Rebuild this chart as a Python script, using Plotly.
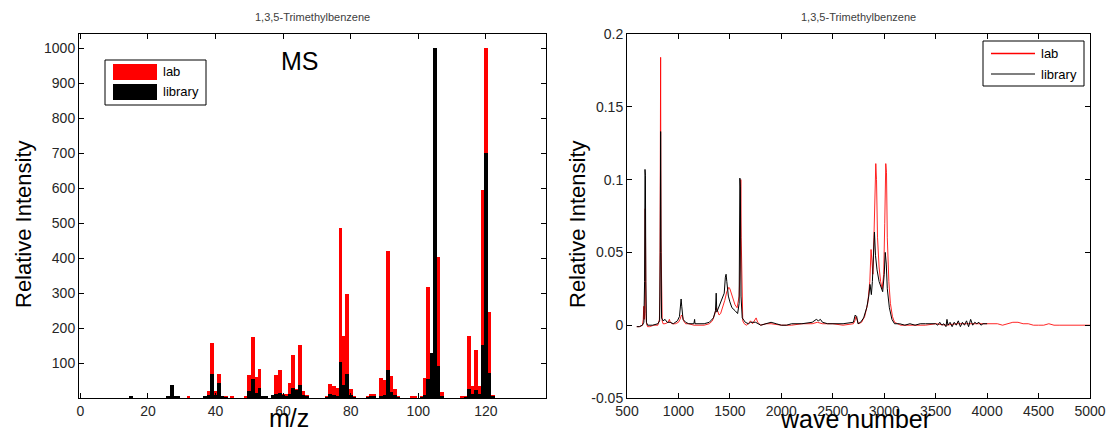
import plotly.graph_objects as go

# ---------------- MS data (m/z, relative intensity) ----------------
ms_mz = [15, 26, 27, 28, 29, 32, 37, 38, 39, 40, 41, 42, 43, 45, 49, 50, 51, 52, 53, 54, 55,
         57, 58, 59, 60, 61, 62, 63, 64, 65, 66, 67, 73, 74, 75, 76, 77, 78, 79, 80, 81,
         85, 86, 87, 89, 90, 91, 92, 93, 94, 98, 99, 101, 102, 103, 104, 105, 106, 107,
         113, 114, 115, 116, 117, 118, 119, 120, 121, 122]
ms_lab = [0, 5, 35, 4, 2, 3, 7, 19, 157, 19, 68, 3, 3, 3, 3, 67, 174, 61, 83, 5, 5,
          8, 67, 81, 12, 12, 43, 124, 26, 152, 19, 8, 5, 40, 33, 30, 486, 176, 297, 26, 3,
          5, 12, 12, 57, 52, 419, 63, 26, 3, 6, 3, 5, 58, 318, 130, 1000, 402, 16,
          3, 3, 177, 35, 138, 35, 595, 1000, 247, 9]
ms_library = [4, 4, 36, 5, 3, 0, 3, 8, 69, 10, 42, 3, 2, 0, 0, 19, 54, 13, 28, 5, 3,
              8, 12, 15, 8, 5, 12, 28, 24, 36, 8, 3, 2, 11, 8, 5, 102, 36, 69, 8, 2,
              2, 3, 3, 5, 8, 81, 16, 8, 2, 0, 0, 2, 10, 54, 128, 1000, 92, 3,
              0, 2, 26, 12, 24, 12, 152, 702, 71, 3]

# ---------------- IR data (wave number, relative intensity) ----------------
ir_lab = [(595, -0.001), (620, -0.001), (650, 0.0), (658, 0.004), (663, 0.013), (668, 0.004),
          (673, 0.01), (677, 0.08), (680, 0.06), (684, 0.008), (690, 0.001), (700, -0.001),
          (720, -0.001), (760, 0.0), (800, 0.0), (815, 0.004), (820, 0.02), (824, 0.12),
          (827, 0.184), (830, 0.06), (834, 0.033), (838, 0.01), (842, 0.003), (850, 0.001),
          (870, 0.001), (900, 0.002), (912, 0.004), (920, 0.002), (940, 0.001), (970, 0.001),
          (1000, 0.002), (1015, 0.004), (1030, 0.007), (1040, 0.006), (1050, 0.003),
          (1070, 0.001), (1100, 0.001), (1150, 0.0), (1200, 0.0), (1250, 0.0), (1300, 0.001),
          (1330, 0.003), (1355, 0.008), (1370, 0.012), (1380, 0.01), (1395, 0.007),
          (1410, 0.008), (1430, 0.012), (1450, 0.017), (1470, 0.023), (1490, 0.026),
          (1500, 0.025), (1515, 0.022), (1530, 0.019), (1550, 0.014), (1570, 0.012),
          (1590, 0.02), (1600, 0.04), (1606, 0.1), (1610, 0.06), (1614, 0.04), (1618, 0.01),
          (1625, 0.003), (1640, 0.001), (1660, 0.0), (1680, 0.001), (1700, 0.003),
          (1720, 0.001), (1740, 0.003), (1755, 0.005), (1770, 0.002), (1800, 0.0),
          (1850, 0.001), (1900, 0.001), (2000, 0.0), (2100, 0.0), (2200, 0.001),
          (2300, 0.001), (2350, 0.002), (2400, 0.001), (2500, 0.001), (2600, 0.0),
          (2700, 0.001), (2715, 0.003), (2725, 0.006), (2735, 0.004), (2750, 0.001),
          (2780, 0.002), (2810, 0.006), (2840, 0.015), (2860, 0.03), (2872, 0.052),
          (2880, 0.04), (2890, 0.035), (2900, 0.06), (2910, 0.1), (2918, 0.111),
          (2925, 0.1), (2935, 0.06), (2950, 0.04), (2965, 0.03), (2980, 0.025),
          (2995, 0.035), (3005, 0.07), (3015, 0.111), (3022, 0.105), (3030, 0.06),
          (3045, 0.03), (3060, 0.015), (3080, 0.006), (3100, 0.002), (3130, 0.001),
          (3160, 0.0), (3200, 0.0), (3300, 0.0), (3400, 0.0), (3500, 0.001), (3600, 0.0),
          (3700, 0.001), (3800, 0.001), (3900, 0.001), (4000, 0.001), (4050, 0.0005),
          (4100, 0.001), (4150, 0.0), (4200, 0.001), (4250, 0.002), (4300, 0.002),
          (4350, 0.001), (4400, 0.001), (4450, 0.0), (4500, 0.0), (4550, 0.0),
          (4600, 0.001), (4650, 0.0), (4700, 0.0), (4800, 0.0), (4900, 0.0), (5000, 0.0)]

ir_library = [(595, -0.001), (620, -0.001), (650, 0.0), (664, 0.002), (671, 0.03), (675, 0.107),
              (679, 0.103), (683, 0.03), (689, 0.002), (700, 0.0), (750, 0.0), (800, 0.001),
              (817, 0.003), (823, 0.05), (827, 0.133), (831, 0.05), (836, 0.005), (850, 0.003),
              (870, 0.004), (890, 0.002), (920, 0.002), (950, 0.001), (990, 0.003),
              (1010, 0.006), (1020, 0.012), (1026, 0.018), (1032, 0.013), (1045, 0.004),
              (1070, 0.002), (1100, 0.001), (1150, 0.001), (1157, 0.004), (1161, 0.001),
              (1200, 0.001), (1250, 0.001), (1300, 0.002), (1340, 0.005), (1360, 0.01),
              (1367, 0.022), (1373, 0.009), (1390, 0.012), (1410, 0.016), (1430, 0.02),
              (1445, 0.022), (1456, 0.033), (1463, 0.035), (1470, 0.03), (1485, 0.02),
              (1500, 0.016), (1520, 0.012), (1550, 0.01), (1575, 0.008), (1590, 0.015),
              (1597, 0.101), (1602, 0.095), (1608, 0.02), (1620, 0.005), (1650, 0.002),
              (1680, 0.001), (1700, 0.002), (1750, 0.002), (1800, 0.0), (1850, 0.001),
              (1900, 0.002), (1950, 0.001), (2000, 0.0), (2050, 0.0), (2100, 0.001),
              (2200, 0.001), (2300, 0.002), (2340, 0.004), (2360, 0.003), (2380, 0.004),
              (2400, 0.002), (2450, 0.001), (2500, 0.001), (2600, 0.001), (2700, 0.002),
              (2718, 0.007), (2732, 0.006), (2745, 0.001), (2770, 0.002), (2800, 0.005),
              (2830, 0.012), (2850, 0.02), (2862, 0.028), (2875, 0.021), (2885, 0.03),
              (2895, 0.055), (2905, 0.064), (2915, 0.048), (2930, 0.038), (2950, 0.03),
              (2970, 0.025), (2985, 0.023), (3000, 0.035), (3010, 0.05), (3020, 0.042),
              (3030, 0.025), (3050, 0.012), (3075, 0.004), (3100, 0.001), (3150, 0.001),
              (3200, 0.0), (3250, 0.001), (3300, 0.0), (3350, 0.001), (3400, 0.001),
              (3450, 0.001), (3500, 0.001), (3520, 0.0), (3540, 0.002), (3560, 0.0),
              (3580, 0.001), (3600, -0.001), (3610, 0.004), (3620, 0.0), (3640, 0.002),
              (3660, -0.001), (3680, 0.002), (3700, 0.0), (3720, 0.003), (3740, -0.001),
              (3760, 0.002), (3780, 0.0), (3800, 0.003), (3820, -0.001), (3840, 0.004),
              (3860, 0.0), (3880, 0.002), (3900, 0.001), (3920, 0.002), (3940, 0.0),
              (3960, 0.001), (3980, 0.001), (4000, 0.001)]

ms_yticks = [100, 200, 300, 400, 500, 600, 700, 800, 900, 1000]
ms_xticks = [0, 20, 40, 60, 80, 100, 120]
ir_xticks = [500, 1000, 1500, 2000, 2500, 3000, 3500, 4000, 4500, 5000]
ir_yticks = [-0.05, 0, 0.05, 0.1, 0.15, 0.2]
ir_yticktext = ["-0.05", "0", "0.05", "0.1", "0.15", "0.2"]

chart_title = "1,3,5-Trimethylbenzene"

W, H = 1111, 434
FONT = "Liberation Sans, Arial, Helvetica, sans-serif"
TICKCOL = "#262626"


def px(x):
    return x / W


def py(y):
    return 1 - y / H


lab_wn = [p[0] for p in ir_lab]
lab_int = [p[1] for p in ir_lab]
lib_wn = [p[0] for p in ir_library]
lib_int = [p[1] for p in ir_library]

fig = go.Figure()
fig.add_trace(go.Bar(x=ms_mz, y=ms_lab, name="lab", marker=dict(color="#ff0000", line=dict(width=0)),
                     width=1.15, xaxis="x", yaxis="y", showlegend=False))
fig.add_trace(go.Bar(x=ms_mz, y=ms_library, name="library", marker=dict(color="#000000", line=dict(width=0)),
                     width=1.15, xaxis="x", yaxis="y", showlegend=False))
fig.add_trace(go.Scatter(x=lab_wn, y=lab_int, name="lab", mode="lines",
                         line=dict(color="rgba(255,0,0,0.85)", width=1), xaxis="x2", yaxis="y2",
                         showlegend=False))
fig.add_trace(go.Scatter(x=lib_wn, y=lib_int, name="library", mode="lines",
                         line=dict(color="#000000", width=1), xaxis="x2", yaxis="y2",
                         showlegend=False))

axis_common = dict(showline=True, linecolor="black", linewidth=1, mirror="ticks",
                   ticks="inside", ticklen=5, tickcolor="black", showgrid=False, zeroline=False,
                   automargin=False,
                   tickfont=dict(family=FONT, size=14, color=TICKCOL))

L0, L1 = 79, 546
R0, R1 = 627, 1090
T, B = 34, 398

fig.update_layout(
    template="none",
    width=W, height=H,
    margin=dict(l=0, r=0, t=0, b=0, pad=0),
    paper_bgcolor="white", plot_bgcolor="white",
    barmode="overlay", bargap=0,
    xaxis=dict(domain=[px(L0), px(L1)], range=[-0.4, 137.8], tickvals=ms_xticks, anchor="y",
               **axis_common),
    yaxis=dict(domain=[py(B), py(T)], range=[0, 1041], tickvals=ms_yticks, anchor="x",
               **axis_common),
    xaxis2=dict(domain=[px(R0), px(R1)], range=[500, 5000], tickvals=ir_xticks, anchor="y2",
                **axis_common),
    yaxis2=dict(domain=[py(B), py(T)], range=[-0.05, 0.2], tickvals=ir_yticks,
                ticktext=ir_yticktext, anchor="x2", **axis_common),
)

ann = []
# titles
for cx in [(L0 + L1) / 2, (R0 + R1) / 2]:
    ann.append(dict(text=chart_title, x=px(cx), y=py(17), xref="paper", yref="paper",
                    showarrow=False, xanchor="center", yanchor="middle",
                    font=dict(family=FONT, size=11, color="#404040")))
# y titles
for cx in [23, 577]:
    ann.append(dict(text="Relative Intensity", x=px(cx), y=py(224), xref="paper", yref="paper",
                    showarrow=False, textangle=-90, xanchor="center", yanchor="middle",
                    font=dict(family=FONT, size=22, color="black")))
# x titles
ann.append(dict(text="m/z", x=px(289), y=py(418), xref="paper", yref="paper", showarrow=False,
                xanchor="center", yanchor="middle", font=dict(family=FONT, size=25, color="black")))
ann.append(dict(text="wave number", x=px(855), y=py(419), xref="paper", yref="paper",
                showarrow=False, xanchor="center", yanchor="middle",
                font=dict(family=FONT, size=25, color="black")))
# MS label
ann.append(dict(text="MS", x=65, y=965, xref="x", yref="y", showarrow=False,
                xanchor="center", yanchor="middle", font=dict(family=FONT, size=25, color="black")))

shapes = []
# left legend (bar patches)
shapes.append(dict(type="rect", xref="paper", yref="paper", x0=px(105), x1=px(206), y0=py(105),
                   y1=py(60), line=dict(color="black", width=1), fillcolor="white"))
shapes.append(dict(type="rect", xref="paper", yref="paper", x0=px(113), x1=px(157), y0=py(80),
                   y1=py(64), line=dict(width=0), fillcolor="#ff0000"))
shapes.append(dict(type="rect", xref="paper", yref="paper", x0=px(113), x1=px(157), y0=py(100),
                   y1=py(84), line=dict(width=0), fillcolor="#000000"))
ann.append(dict(text="lab", x=px(161), y=py(72), xref="paper", yref="paper", showarrow=False,
                xanchor="left", yanchor="middle", font=dict(family=FONT, size=13, color="black")))
ann.append(dict(text="library", x=px(161), y=py(92), xref="paper", yref="paper", showarrow=False,
                xanchor="left", yanchor="middle", font=dict(family=FONT, size=13, color="black")))
# right legend (lines)
shapes.append(dict(type="rect", xref="paper", yref="paper", x0=px(983), x1=px(1084), y0=py(86),
                   y1=py(41), line=dict(color="black", width=1), fillcolor="white"))
shapes.append(dict(type="rect", xref="paper", yref="paper", x0=px(991), x1=px(1035), y0=py(54.2),
                   y1=py(52.8), line=dict(width=0), fillcolor="#ff0000"))
shapes.append(dict(type="rect", xref="paper", yref="paper", x0=px(991), x1=px(1035), y0=py(74.6),
                   y1=py(73.4), line=dict(width=0), fillcolor="#000000"))
ann.append(dict(text="lab", x=px(1039), y=py(53.5), xref="paper", yref="paper", showarrow=False,
                xanchor="left", yanchor="middle", font=dict(family=FONT, size=13, color="black")))
ann.append(dict(text="library", x=px(1039), y=py(74), xref="paper", yref="paper", showarrow=False,
                xanchor="left", yanchor="middle", font=dict(family=FONT, size=13, color="black")))

fig.update_layout(annotations=ann, shapes=shapes)
fig.write_html("out.html", config={"displayModeBar": False},
               post_script="document.body.style.margin='0';document.body.style.overflow='hidden';")
